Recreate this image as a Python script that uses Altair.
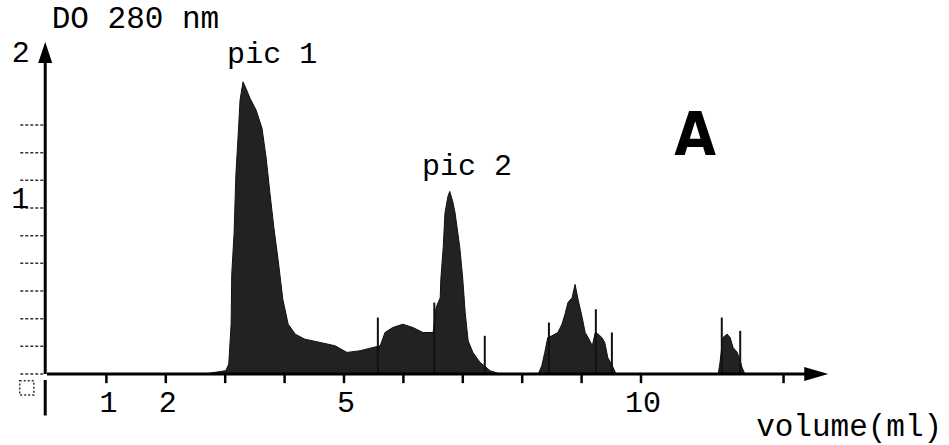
import altair as alt
import pandas as pd

# ---- chromatogram profile (volume in ml, OD 280 nm) ----
vol = [2.66, 2.83, 3.01, 3.06, 3.10, 3.11, 3.15, 3.18, 3.22, 3.25, 3.30, 3.35, 3.42,
       3.52, 3.62, 3.69, 3.75, 3.82, 3.89, 3.97, 4.06, 4.18, 4.34, 4.60, 4.85, 5.05,
       5.27, 5.49, 5.61, 5.69, 5.82, 5.99, 6.16, 6.33, 6.50, 6.55, 6.62, 6.63, 6.67,
       6.70, 6.75, 6.78, 6.83, 6.87, 6.95, 7.00, 7.04, 7.09, 7.17, 7.29, 7.46, 7.63,
       8.27, 8.33, 8.38, 8.43, 8.50, 8.60, 8.67, 8.72, 8.77, 8.84, 8.89, 8.94, 9.01,
       9.06, 9.11, 9.18, 9.23, 9.28, 9.34, 9.39, 9.44, 9.53, 9.58,
       11.30, 11.33, 11.38, 11.45, 11.50, 11.55, 11.62, 11.67, 11.70, 11.75]
od = [0.00, 0.01, 0.02, 0.06, 0.30, 0.60, 0.85, 1.20, 1.45, 1.65, 1.76, 1.72, 1.66,
      1.59, 1.48, 1.30, 1.10, 0.88, 0.69, 0.45, 0.30, 0.24, 0.21, 0.19, 0.17, 0.13,
      0.14, 0.16, 0.17, 0.25, 0.28, 0.30, 0.28, 0.25, 0.25, 0.40, 0.46, 0.57, 0.76,
      0.97, 1.07, 1.10, 1.04, 0.97, 0.76, 0.57, 0.37, 0.20, 0.13, 0.07, 0.02, 0.00,
      0.00, 0.05, 0.13, 0.22, 0.23, 0.25, 0.30, 0.36, 0.43, 0.46, 0.54, 0.45, 0.34,
      0.25, 0.22, 0.17, 0.25, 0.24, 0.22, 0.19, 0.10, 0.04, 0.00,
      0.00, 0.07, 0.22, 0.24, 0.22, 0.16, 0.13, 0.08, 0.04, 0.00]

# fraction marker strokes
marker_vol = [5.57, 6.52, 7.37, 8.45, 9.24, 9.51, 11.36, 11.67]
marker_od = [0.34, 0.43, 0.23, 0.31, 0.39, 0.25, 0.34, 0.26]

# axes
x_ticks = [1, 2, 3, 4, 5, 6, 7, 8, 9, 10, 12.4]
x_label_vals = [1, 2, 5, 10]
x_label_txt = ["1", "2", "5", "10"]
y_ticks = [0, 1/6, 2/6, 3/6, 4/6, 5/6, 1, 7/6, 8/6, 9/6]
y_label_txt = ["1", "2"]

X = alt.Scale(domain=[-0.7912, 15.1852], nice=False, zero=False)
Y = alt.Scale(domain=[-0.4277, 2.2530], nice=False, zero=False)
MONO = "Liberation Mono"


def xe(f):
    return alt.X(f, type="quantitative", scale=X, axis=None)


def ye(f):
    return alt.Y(f, type="quantitative", scale=Y, axis=None)


pdf = pd.DataFrame({"v": vol, "od": od})
pdf["base"] = 0.0
profile = alt.Chart(pdf).mark_area(
    fill="#222222", stroke="#111111", strokeWidth=1
).encode(x=xe("v"), y=ye("od"), y2="base")

mdf = pd.DataFrame({"v": marker_vol, "od": marker_od})
mdf["base"] = 0.0
markers = alt.Chart(mdf).mark_rule(
    color="#111111", strokeWidth=2
).encode(x=xe("v"), y=ye("od"), y2="base")

x_axis_line = alt.Chart(pd.DataFrame({"a": [0.0], "b": [12.85], "y": [0.0]})).mark_rule(
    color="black", strokeWidth=3
).encode(x=xe("a"), x2="b", y=ye("y"))

x_arrow = alt.Chart(pd.DataFrame({"v": [12.95], "y": [0.0]})).mark_point(
    shape="M1,0L-1,-0.58L-1,0.58Z", size=576, filled=True, color="black", opacity=1
).encode(x=xe("v"), y=ye("y"))

y_axis_line = alt.Chart(pd.DataFrame({"x": [-0.03, -0.03], "a": [0.0, -0.036], "b": [1.9, -0.25]})).mark_rule(
    color="black", strokeWidth=3
).encode(x=xe("x"), y=ye("a"), y2="b")

y_arrow = alt.Chart(pd.DataFrame({"x": [-0.03], "y": [1.937]})).mark_point(
    shape="M0,-1L0.67,1L-0.67,1Z", size=441, filled=True, color="black", opacity=1
).encode(x=xe("x"), y=ye("y"))

xtdf = pd.DataFrame({"v": x_ticks})
xtdf["top"] = 0.0
xtdf["bot"] = -0.055
x_tick_marks = alt.Chart(xtdf).mark_rule(
    color="black", strokeWidth=2.5
).encode(x=xe("v"), y=ye("top"), y2="bot")

ytdf = pd.DataFrame({"t": y_ticks})
ytdf["l"] = -0.45
ytdf["r"] = -0.05
y_tick_marks = alt.Chart(ytdf).mark_rule(
    color="#333333", strokeWidth=1.5, strokeDash=[3, 2]
).encode(y=ye("t"), x=xe("l"), x2="r")

xldf = pd.DataFrame({"v": x_label_vals, "t": x_label_txt})
xldf["y"] = -0.23
x_tick_labels = alt.Chart(xldf).mark_text(
    font=MONO, fontSize=30, align="center", baseline="alphabetic", dx=2, color="black"
).encode(x=xe("v"), y=ye("y"), text="t")


def label(txt, x, y, size=30, align="left", font=MONO, weight="normal"):
    return alt.Chart(pd.DataFrame({"x": [x], "y": [y], "t": [txt]})).mark_text(
        font=font, fontSize=size, align=align, baseline="alphabetic",
        fontWeight=weight, color="black"
    ).encode(x=xe("x"), y=ye("y"), text="t")


texts = [
    label(y_label_txt[0], -0.45, 1.0, align="center"),
    label(y_label_txt[1], -0.44, 1.88, align="center"),
    label("DO 280 nm", 0.08, 2.084, size=31),
    label("pic 1", 3.79, 1.873, align="center"),
    label("pic 2", 7.07, 1.199, align="center"),
    label("volume(ml)", 15.07, -0.373, align="right", size=31),
    label("A", 10.91, 1.319, size=60, align="center",
          font="DejaVu Sans Condensed, Roboto", weight="bold"),
]

box = alt.Chart(pd.DataFrame({"x": [-0.34], "y": [-0.084]})).mark_point(
    shape="square", size=200, filled=False, color="#333333", strokeWidth=1.5,
    strokeDash=[2, 2], opacity=1
).encode(x=xe("x"), y=ye("y"))

chart = alt.layer(
    profile, markers, x_axis_line, x_arrow, y_axis_line, y_arrow,
    x_tick_marks, y_tick_marks, x_tick_labels, box, *texts
).properties(
    width=949, height=445, autosize=alt.AutoSizeParams(type="none"), padding=0,
    background="white"
).configure_view(stroke=None)

chart.save("out.html", embed_options={"renderer": "svg", "actions": False})
